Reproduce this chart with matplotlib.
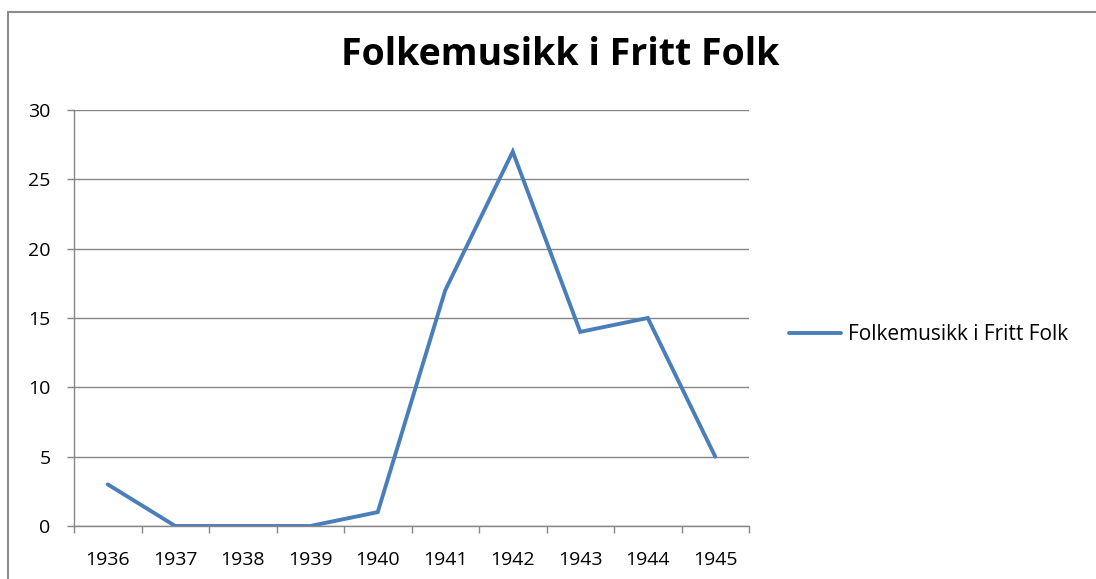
import matplotlib
matplotlib.use("Agg")
import matplotlib.pyplot as plt
from matplotlib.patches import Rectangle

years = ["1936", "1937", "1938", "1939", "1940", "1941", "1942", "1943", "1944", "1945"]
values = [3, 0, 0, 0, 1, 17, 27, 14, 15, 5]
yticks = [0, 5, 10, 15, 20, 25, 30]
series_name = "Folkemusikk i Fritt Folk"
title = "Folkemusikk i Fritt Folk"

plt.rcParams['font.family'] = ['Open Sans', 'DejaVu Sans']

W, H = 1096, 579
fig = plt.figure(figsize=(W / 100, H / 100), dpi=100)
fig.patch.set_facecolor("white")

# outer chart border
fig.patches.append(Rectangle((8 / W, -0.1), 1.2, 1 - 12 / H + 0.1, transform=fig.transFigure,
                             fill=False, edgecolor="#8c8c8c", linewidth=1.5))

ax = fig.add_axes([74 / W, 1 - 526 / H, 675 / W, 416 / H])
x = list(range(len(years)))
line, = ax.plot(x, values, color="#4a7ebb", linewidth=2.8, solid_joinstyle="miter",
                solid_capstyle="round", label=series_name)

ax.set_xlim(-0.5, len(years) - 0.5)
ax.set_ylim(0, 30)
ax.set_yticks(yticks)
ax.set_yticklabels([str(v) for v in yticks])
ax.set_xticks(x)
ax.set_xticklabels(years)
ax.set_xticks([i - 0.5 for i in range(len(years) + 1)], minor=True)

ax.tick_params(axis="x", which="major", length=0, pad=18, labelsize=14, colors="black")
ax.tick_params(axis="x", which="minor", length=5, color="#868686", width=1)
ax.tick_params(axis="y", length=5, color="#868686", width=1, pad=12, labelsize=14)

ax.grid(axis="y", color="#868686", linewidth=1)
ax.set_axisbelow(True)
for s in ["top", "right"]:
    ax.spines[s].set_visible(False)
for s in ["left", "bottom"]:
    ax.spines[s].set_color("#868686")
    ax.spines[s].set_linewidth(1)

fig.text(560 / W, 1 - 55 / H, title, ha="center", va="center", fontsize=27, fontweight="bold")

leg = fig.legend(handles=[line], loc="center left", bbox_to_anchor=(789 / W, 1 - 335 / H),
                 frameon=False, fontsize=15, handlelength=2.5, handletextpad=0.35,
                 borderaxespad=0, borderpad=0)

fig.savefig("out.png", dpi=100)
